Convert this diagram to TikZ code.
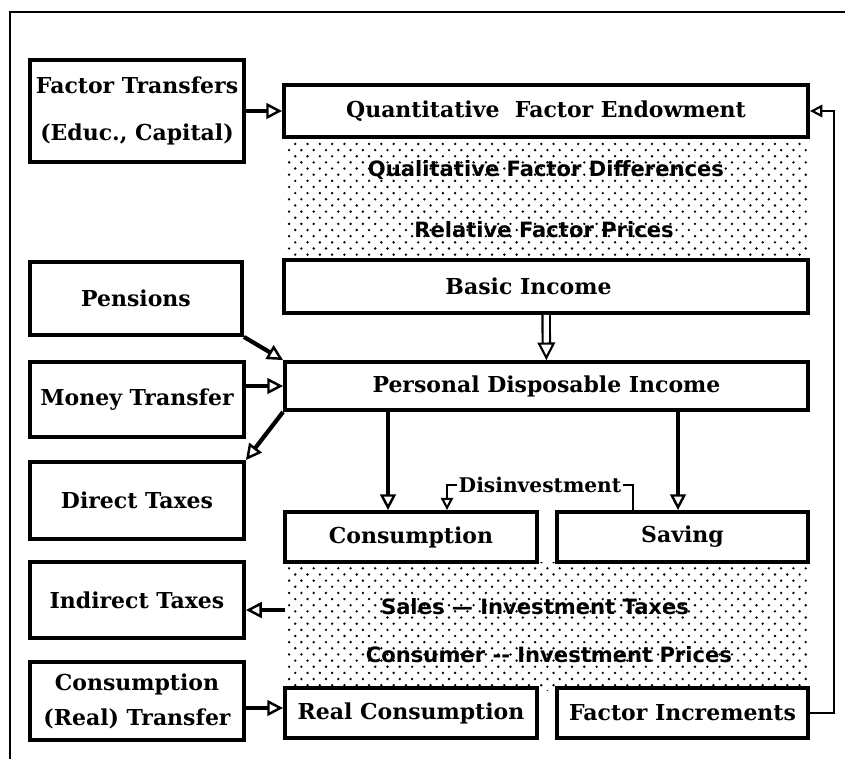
\documentclass[tikz,border=0pt]{standalone}
\usepackage{fontspec}
\setmainfont{DejaVu Serif}
\newfontfamily\dotfont{DejaVu Sans}[Ligatures=TeX]
\usetikzlibrary{arrows.meta,patterns}
\pgfdeclarepatternformonly{sparse dots}{\pgfqpoint{-1pt}{-1pt}}{\pgfqpoint{4.5pt}{4.5pt}}{\pgfqpoint{7pt}{7pt}}{%
  \pgfpathcircle{\pgfqpoint{0pt}{0pt}}{.75pt}%
  \pgfpathcircle{\pgfqpoint{3.5pt}{3.5pt}}{.75pt}%
  \pgfusepath{fill}}

\begin{document}
\begin{tikzpicture}[
  box/.style={draw,line width=2.2pt,fill=white,align=center,inner sep=0pt,font=\bfseries\fontsize{12.5}{14}\selectfont},
  dotbox/.style={pattern=sparse dots,inner sep=0pt},
  dottext/.style={font=\dotfont\bfseries\fontsize{12}{14}\selectfont},
  arr/.style={line width=2.4pt,-{Triangle[open,line width=1.4pt,length=9pt,width=9pt]}},
  thinarr/.style={line width=1.4pt,-{Triangle[open,line width=1.2pt,length=7pt,width=7pt]}},
  dblarr/.style={double,double distance=3pt,line width=1.2pt,-{Triangle[open,line width=1.2pt,length=10pt,width=10pt]}}
]
\useasboundingbox (0,0) rectangle (16.9,-15.18);
\draw[line width=1.4pt] (0.2,-15.18) -- (0.2,-0.24) -- (16.9,-0.24);

% dotted bands
\node[dotbox,minimum width=10.48cm,minimum height=2.46cm] (diff) at (10.92,-3.97) {};
\node[dotbox,minimum width=10.46cm,minimum height=2.56cm] (pr) at (10.93,-12.52) {};
\node[dottext] at (10.92,-3.4) {Qualitative Factor Differences};
\node[dottext] at (10.88,-4.6) {Relative Factor Prices};
\node[dottext] at (10.7,-12.14) {Sales — Investment Taxes};
\node[dottext] at (10.98,-13.1) {Consumer -{}- Investment Prices};

% boxes
\node[box,minimum width=4.28cm,minimum height=2.04cm] (ft) at (2.74,-2.22) {Factor Transfers\\[13pt](Educ., Capital)};
\node[box,minimum width=10.48cm,minimum height=1.04cm] (qfe) at (10.92,-2.22) {Quantitative\ \ Factor Endowment};
\node[box,minimum width=10.48cm,minimum height=1.06cm] (bi) at (10.92,-5.73) {Basic Income\hspace*{0.7cm}};
\node[box,minimum width=4.24cm,minimum height=1.46cm] (pens) at (2.72,-5.97) {\raisebox{-.3cm}{Pensions}};
\node[box,minimum width=4.28cm,minimum height=1.5cm] (mt) at (2.74,-7.99) {Money Transfer};
\node[box,minimum width=4.28cm,minimum height=1.54cm] (dt) at (2.74,-10.01) {Direct Taxes};
\node[box,minimum width=10.46cm,minimum height=0.96cm] (pdi) at (10.93,-7.72) {Personal Disposable Income};
\node[box,minimum width=5.04cm,minimum height=1cm] (cons) at (8.22,-10.74) {Consumption};
\node[box,minimum width=5.02cm,minimum height=1cm] (sav) at (13.65,-10.74) {Saving};
\node[box,minimum width=4.28cm,minimum height=1.52cm] (it) at (2.74,-12) {Indirect Taxes};
\node[box,minimum width=4.28cm,minimum height=1.56cm] (ct) at (2.74,-14.02) {Consumption\\[6pt](Real) Transfer};
\node[box,minimum width=5.04cm,minimum height=1cm] (rc) at (8.22,-14.26) {Real Consumption};
\node[box,minimum width=5.02cm,minimum height=1cm] (fi) at (13.65,-14.26) {Factor Increments};

% connectors
\draw[arr] (ft) -- (qfe);
\draw[arr] (pens.south east) -- (pdi.north west);
\draw[arr] (mt.east |- pdi.west) -- (pdi.west);
\draw[arr] (pdi.south west) -- (dt.north east);
\draw[dblarr] (bi) -- (pdi);
\draw[arr] (pdi.south -| 7.76,0) -- (cons.north -| 7.76,0);
\draw[arr] (pdi.south -| 13.56,0) -- (sav.north -| 13.56,0);
\draw[thinarr] (sav.north -| 12.66,0) -- (12.66,-9.7) -- node[fill=white,inner sep=1pt,font=\bfseries\fontsize{11.5}{13}\selectfont] {Disinvestment} (8.94,-9.7) -- (cons.north -| 8.94,0);
\draw[arr] (pr.west |- 0,-12.2) -- (it.east |- 0,-12.2);
\draw[arr] (ct.east |- 0,-14.16) -- (rc.west |- 0,-14.16);
\draw[thinarr] (fi.east) -- ++(0.48,0) |- (qfe.east);
\end{tikzpicture}
\end{document}
